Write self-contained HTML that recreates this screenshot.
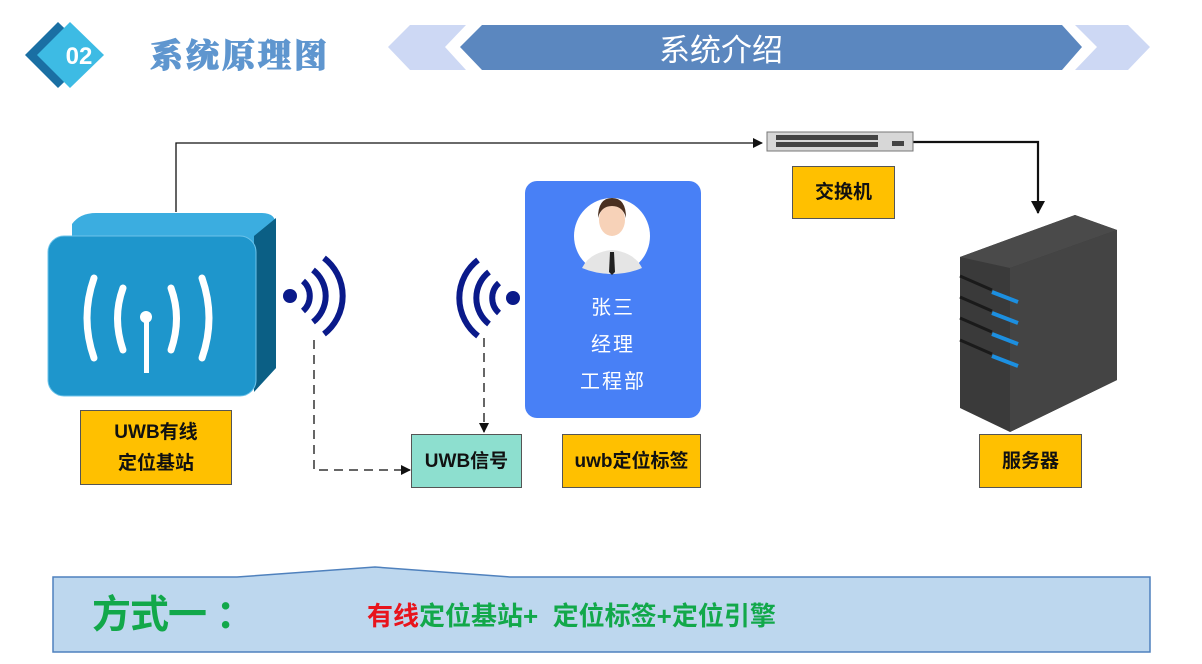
<!DOCTYPE html>
<html><head><meta charset="utf-8"><style>
html,body{margin:0;padding:0;background:#fff;}
body{width:1202px;height:664px;position:relative;overflow:hidden;font-family:"Liberation Sans","Noto Sans CJK SC",sans-serif;}
.lbl{position:absolute;box-sizing:border-box;border:1.5px solid #555;display:flex;align-items:center;justify-content:center;text-align:center;font-weight:bold;font-size:19px;color:#111;line-height:31px;}
.y{background:#ffc000;}
.t{position:absolute;color:#fff;font-size:20px;width:176px;text-align:center;letter-spacing:2px;}
</style></head><body>
<svg width="1202" height="664" style="position:absolute;left:0;top:0">
<defs>
<marker id="a" markerWidth="10" markerHeight="10" refX="9" refY="5" orient="auto" markerUnits="userSpaceOnUse"><path d="M0,0 L10,5 L0,10 z" fill="#111"/></marker>
<marker id="b" markerWidth="14" markerHeight="14" refX="12" refY="7" orient="auto" markerUnits="userSpaceOnUse"><path d="M0,0 L13,7 L0,14 z" fill="#111"/></marker>
</defs>
<polygon points="58,22 92,55 58,88 25,55" fill="#1a6fa3"/>
<polygon points="70,22 104,55 70,88 37,55" fill="#3dbbe4"/>
<text x="79" y="64" font-size="24" font-weight="bold" fill="#fff" text-anchor="middle" font-family="Liberation Sans">02</text>
<text x="150" y="67" font-size="33" font-weight="900" fill="#5f96cf" font-family="Noto Serif CJK SC,serif" letter-spacing="3" stroke="#5f96cf" stroke-width="1">系统原理图</text>
<polygon points="410,25 466,25 445,47 466,70 410,70 388,47" fill="#cdd8f4"/>
<polygon points="482,25 1062,25 1082,47 1062,70 482,70 460,47" fill="#5b87bf"/>
<polygon points="1075,25 1128,25 1150,47 1128,70 1075,70 1097,47" fill="#cdd8f4"/>
<text x="721" y="61" font-size="31" fill="#fff" text-anchor="middle" font-family="Noto Sans CJK SC,sans-serif">系统介绍</text>
<polyline points="176,212 176,143 762,143" fill="none" stroke="#111" stroke-width="1.3" marker-end="url(#a)"/>
<polyline points="913,142 1038,142 1038,213" fill="none" stroke="#111" stroke-width="2.2" marker-end="url(#b)"/>
<polyline points="314,340 314,470 410,470" fill="none" stroke="#333" stroke-width="1.5" stroke-dasharray="9,6" marker-end="url(#a)"/>
<polyline points="484,338 484,432" fill="none" stroke="#333" stroke-width="1.5" stroke-dasharray="9,6" marker-end="url(#a)"/>
<rect x="767" y="132" width="146" height="19" fill="#d7d7d7" stroke="#777"/>
<g fill="#444">
<rect x="776" y="135" width="102" height="5"/><rect x="776" y="142" width="102" height="5"/>
<rect x="892" y="141" width="12" height="5"/>
</g>
<path d="M72,224 Q80,213 96,213 L262,213 Q276,213 276,226 L276,368 L254,388 L72,236 Z" fill="#3bade0"/>
<path d="M254,236 L276,218 L276,368 L254,392 Z" fill="#0b5f85"/>
<rect x="48" y="236" width="208" height="160" rx="16" fill="#1e96cc" stroke="#6cc3ea" stroke-width="1"/>
<g fill="none" stroke="#fff" stroke-width="7" stroke-linecap="round">
<path d="M94,278 Q80,318 94,358"/><path d="M123,288 Q112,318 123,350"/>
<path d="M171,288 Q182,318 171,350"/><path d="M202,278 Q216,318 202,358"/>
</g>
<circle cx="146" cy="317" r="6" fill="#fff"/><rect x="144" y="317" width="5" height="56" fill="#fff"/>
<circle cx="290" cy="296" r="7" fill="#0a1a8a"/>
<g fill="none" stroke="#0a1a8a" stroke-width="6">
<path d="M303,281 A20,20 0 0 1 303,311"/><path d="M313,270 A33,33 0 0 1 313,322"/><path d="M324,258 A48,48 0 0 1 324,334"/>
</g>
<circle cx="513" cy="298" r="7" fill="#0a1a8a"/>
<g fill="none" stroke="#0a1a8a" stroke-width="6">
<path d="M499,283 A20,20 0 0 0 499,313"/><path d="M489,272 A33,33 0 0 0 489,324"/><path d="M478,260 A48,48 0 0 0 478,336"/>
</g>
<rect x="525" y="181" width="176" height="237" rx="12" fill="#4880f6"/>
<circle cx="612" cy="236" r="38" fill="#fff"/>
<path d="M582,268 Q590,252 612,250 Q634,252 642,268 Q628,274 612,274 Q596,274 582,268Z" fill="#e5e5e5"/>
<ellipse cx="612" cy="220" rx="13" ry="16" fill="#f7d2b8"/>
<path d="M598,218 Q598,198 612,198 Q626,198 626,218 Q623,206 612,206 Q601,206 598,218Z" fill="#4a3020"/>
<path d="M610,252 L614,252 L615,272 L612,275 L609,272Z" fill="#222"/>
<polygon points="960,257 1075,215 1117,230 1117,380 1010,432 960,408" fill="#3a3a3a"/>
<polygon points="960,257 1075,215 1117,230 1010,268" fill="#4a4a4a"/>
<polygon points="1010,268 1117,230 1117,380 1010,432" fill="#444"/>
<g stroke="#1c8fe0" stroke-width="4"><line x1="992" y1="292" x2="1018" y2="302"/><line x1="992" y1="313" x2="1018" y2="323"/><line x1="992" y1="334" x2="1018" y2="344"/><line x1="992" y1="356" x2="1018" y2="366"/></g>
<g stroke="#1a1a1a" stroke-width="3"><line x1="960" y1="276" x2="992" y2="290"/><line x1="960" y1="297" x2="992" y2="311"/><line x1="960" y1="318" x2="992" y2="332"/><line x1="960" y1="340" x2="992" y2="354"/></g>
<path d="M53,577 L237,577 L375,567 L510,577 L1150,577 L1150,652 L53,652 Z" fill="#bdd7ee" stroke="#4f81bd" stroke-width="1.5"/>
</svg>
<div class="t" style="left:525px;top:291px">张三</div>
<div class="t" style="left:525px;top:328px">经理</div>
<div class="t" style="left:525px;top:365px">工程部</div>
<div class="lbl y" style="left:80px;top:410px;width:152px;height:75px;">UWB有线<br>定位基站</div>
<div class="lbl" style="left:411px;top:434px;width:111px;height:54px;background:#8ddfcf;">UWB信号</div>
<div class="lbl y" style="left:562px;top:434px;width:139px;height:54px;">uwb定位标签</div>
<div class="lbl y" style="left:792px;top:166px;width:103px;height:53px;">交换机</div>
<div class="lbl y" style="left:979px;top:434px;width:103px;height:54px;">服务器</div>
<div style="position:absolute;left:92px;top:584px;font-size:39px;font-weight:bold;color:#12a84a;letter-spacing:-1px;">方式一 ：</div>
<div style="position:absolute;left:367px;top:596px;font-size:26px;font-weight:bold;color:#12a84a;white-space:pre;"><span style="color:#e8141c">有线</span>定位基站+  定位标签+定位引擎</div>
</body></html>
